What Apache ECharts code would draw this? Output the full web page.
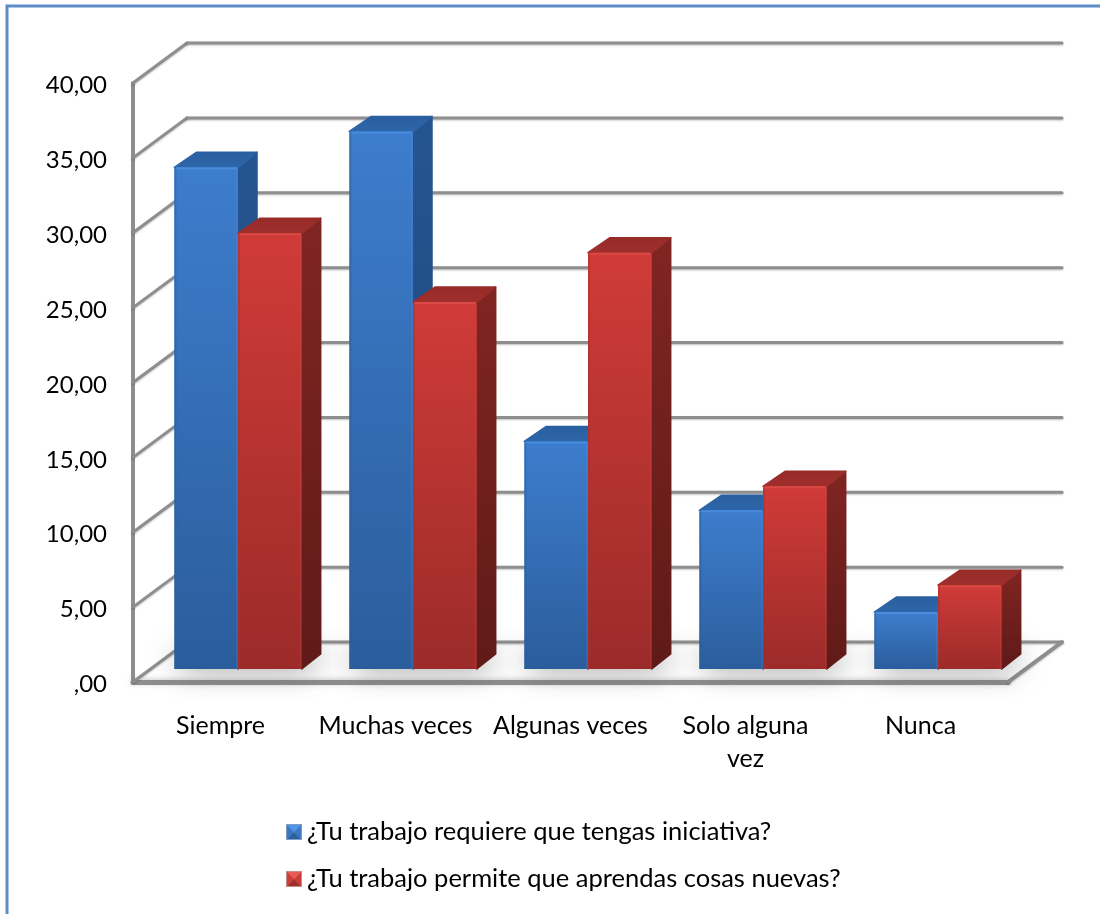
<!DOCTYPE html>
<html>
<head>
<meta charset="utf-8">
<style>html,body{margin:0;padding:0;background:#fff}#chart{width:1100px;height:914px}</style>
<script src="https://cdn.jsdelivr.net/npm/echarts@6/dist/echarts.min.js"></script>
</head>
<body>
<div id="chart"></div>
<script>
// Survey answers, percentage per response category
var categories = ['Siempre', 'Muchas veces', 'Algunas veces', 'Solo alguna\nvez', 'Nunca'];
var iniciativa = [33.5, 35.9, 15.2, 10.6, 3.8];
var aprender = [29.1, 24.5, 27.8, 12.2, 5.6];
var yTicks = [0, 5, 10, 15, 20, 25, 30, 35, 40];
var seriesNames = ['¿Tu trabajo requiere que tengas iniciativa?', '¿Tu trabajo permite que aprendas cosas nuevas?'];

// Oblique projection used for the fake 3D box
var WALL_DX = 54, WALL_DY = -40;      // depth of the chart box
var PLANE_DX = 17.5, PLANE_DY = -13;  // where the bars' front faces stand on the floor
var BAR_DX = 19, BAR_DY = -15;        // depth of a single bar
var BAR_RATIO = 0.364;                // bar width as a share of the category band
var GRID_COLOR = '#8e8e8e';
var FONT = 'Lato';

function vGrad(top, bottom) {
  return new echarts.graphic.LinearGradient(0, 0, 0, 1, [
    { offset: 0, color: top }, { offset: 1, color: bottom }
  ]);
}

var palettes = [
  { front: ['#3d7dcd', '#2b5d9c'], side: ['#255591', '#1d4375'], top: ['#2a5f9f', '#2d66aa'], hi: '#4c90e0', lo: '#2c5f9e' },
  { front: ['#d03b38', '#9b2b29'], side: ['#802522', '#5f1a18'], top: ['#962b28', '#a02f2c'], hi: '#de4c48', lo: '#a83230' }
];

function barBox(api, seriesIndex) {
  var cat = api.value(0), v = api.value(1);
  var band = api.size([1, 0])[0];
  var base = api.coord([cat, 0]);
  var head = api.coord([cat, v]);
  var w = band * BAR_RATIO;
  var mid = base[0] + PLANE_DX;
  var x0 = seriesIndex === 0 ? mid - w : mid;
  return { x0: x0, x1: x0 + w, yTop: head[1] + PLANE_DY, yBase: base[1] + PLANE_DY };
}

function poly(points, fill) {
  return { type: 'polygon', shape: { points: points }, style: { fill: fill, stroke: fill, lineWidth: 1.5, lineJoin: 'round' } };
}

// One extruded bar: side, top cap, front face and its bevelled edges
function renderBar(seriesIndex) {
  return function (params, api) {
    var b = barBox(api, seriesIndex), p = palettes[seriesIndex];
    var c = [];
    c.push(poly([[b.x1, b.yTop], [b.x1 + BAR_DX, b.yTop + BAR_DY], [b.x1 + BAR_DX, b.yBase + BAR_DY], [b.x1, b.yBase]], vGrad(p.side[0], p.side[1])));
    c.push(poly([[b.x0, b.yTop], [b.x0 + BAR_DX + 3, b.yTop + BAR_DY], [b.x1 + BAR_DX, b.yTop + BAR_DY], [b.x1, b.yTop]], vGrad(p.top[0], p.top[1])));
    c.push({ type: 'rect', shape: { x: b.x0, y: b.yTop, width: b.x1 - b.x0, height: b.yBase - b.yTop, r: [2, 2, 0, 0] }, style: { fill: vGrad(p.front[0], p.front[1]) } });
    c.push({ type: 'rect', shape: { x: b.x0 + 1, y: b.yTop, width: b.x1 - b.x0 - 2, height: 2 }, style: { fill: p.hi, opacity: 0.8 } });
    c.push({ type: 'rect', shape: { x: b.x1 - 2, y: b.yTop, width: 2, height: b.yBase - b.yTop }, style: { fill: p.hi, opacity: 0.2 } });
    c.push({ type: 'rect', shape: { x: b.x0, y: b.yTop, width: 2, height: b.yBase - b.yTop }, style: { fill: p.lo, opacity: 0.5 } });
    return { type: 'group', children: c };
  };
}

// Soft contact shadow on the floor; the caster stays hidden behind the bars
function renderShadow(params, api) {
  var b0 = barBox(api, 0), b1 = barBox(api, 1);
  var y = b0.yBase;
  return {
    type: 'polygon',
    shape: { points: [[b0.x0 + 3, y - 3], [b1.x1 + 2, y - 3], [b1.x1 + BAR_DX - 1, y + BAR_DY + 1], [b0.x0 + 3, y + BAR_DY + 1]] },
    style: { fill: '#8c8c8c', shadowBlur: 30, shadowOffsetX: 3, shadowColor: 'rgba(70,70,70,1)' }
  };
}

// Side wall and back wall gridlines for each axis tick, plus the floor edge
function renderWall(params, api) {
  var cs = params.coordSys;
  var left = cs.x, right = cs.x + cs.width;
  var y = api.coord([0, api.value(0)])[1];
  var line = function (x1, y1, x2, y2, width) {
    return { type: 'line', shape: { x1: x1, y1: y1, x2: x2, y2: y2 }, style: { stroke: GRID_COLOR, lineWidth: width, lineCap: 'round', shadowBlur: 2, shadowOffsetY: 1, shadowColor: 'rgba(0,0,0,0.25)' } };
  };
  var c = [
    line(left, y, left + WALL_DX, y + WALL_DY, 3),
    line(left + WALL_DX, y + WALL_DY, right + WALL_DX, y + WALL_DY, 3)
  ];
  if (api.value(0) === 0) {
    c.push(line(right, y, right + WALL_DX, y + WALL_DY, 4));
  }
  return { type: 'group', children: c };
}

function legendIcon(light, mid, dark, edge) {
  var svg = '<svg xmlns="http://www.w3.org/2000/svg" width="16" height="16">' +
    '<rect width="16" height="16" fill="' + edge + '"/>' +
    '<polygon points="1,1 15,1 8,8" fill="' + light + '"/>' +
    '<polygon points="1,1 8,8 1,15" fill="' + mid + '"/>' +
    '<polygon points="15,1 8,8 15,15" fill="' + mid + '"/>' +
    '<polygon points="1,15 15,15 8,8" fill="' + dark + '"/></svg>';
  return 'image://data:image/svg+xml;charset=utf-8,' + encodeURIComponent(svg);
}

var pairs = categories.map(function (c, i) { return [i, iniciativa[i], aprender[i]]; });

var chart = echarts.init(document.getElementById('chart'), null, { renderer: 'canvas' });
chart.setOption({
  animation: false,
  backgroundColor: '#ffffff',
  graphic: [{
    type: 'rect', z: 0,
    shape: { x: 7, y: 6, width: 1200, height: 1000 },
    style: { fill: 'none', stroke: '#5d8cc6', lineWidth: 3 }
  }],
  grid: { left: 133, right: 92, top: 83, bottom: 232 },
  legend: {
    orient: 'vertical', left: 281, top: 814, itemGap: 21,
    itemWidth: 16, itemHeight: 16,
    textStyle: { fontFamily: FONT, fontSize: 25.5, color: '#000' },
    data: [
      { name: seriesNames[0], icon: legendIcon('#4f96e6', '#3a78c4', '#2c619f', '#7f9cc4') },
      { name: seriesNames[1], icon: legendIcon('#e85a56', '#cc3c39', '#a02f2c', '#c98a88') }
    ]
  },
  xAxis: {
    type: 'category', data: categories,
    axisLine: { show: true, lineStyle: { color: GRID_COLOR, width: 5, shadowBlur: 5, shadowOffsetY: -1, shadowColor: 'rgba(150,150,150,0.5)' } },
    axisTick: { show: false },
    axisLabel: { fontFamily: FONT, fontSize: 25, color: '#000', margin: 27, lineHeight: 33, interval: 0 }
  },
  yAxis: {
    type: 'value', min: 0, max: 40, interval: 5,
    axisLine: { show: true, lineStyle: { color: GRID_COLOR, width: 4 } },
    axisTick: { show: false },
    splitLine: { show: false },
    axisLabel: {
      fontFamily: FONT, fontSize: 24, color: '#000', margin: 26, verticalAlign: 'top', lineHeight: 5,
      formatter: function (v) { return v === 0 ? ',00' : v + ',00'; }
    }
  },
  series: [
    { type: 'custom', coordinateSystem: 'cartesian2d', silent: true, z: 1, renderItem: renderWall, encode: { y: 0 }, data: yTicks.map(function (v) { return [v]; }) },
    { type: 'custom', coordinateSystem: 'cartesian2d', silent: true, z: 2, renderItem: renderShadow, encode: { x: 0, y: [1, 2] }, data: pairs },
    { type: 'custom', name: seriesNames[0], coordinateSystem: 'cartesian2d', z: 3, renderItem: renderBar(0), encode: { x: 0, y: 1 }, itemStyle: { color: '#3f80d2' },
      data: iniciativa.map(function (v, i) { return [i, v]; }) },
    { type: 'custom', name: seriesNames[1], coordinateSystem: 'cartesian2d', z: 4, renderItem: renderBar(1), encode: { x: 0, y: 1 }, itemStyle: { color: '#d23c39' },
      data: aprender.map(function (v, i) { return [i, v]; }) }
  ]
});
</script>
</body>
</html>
